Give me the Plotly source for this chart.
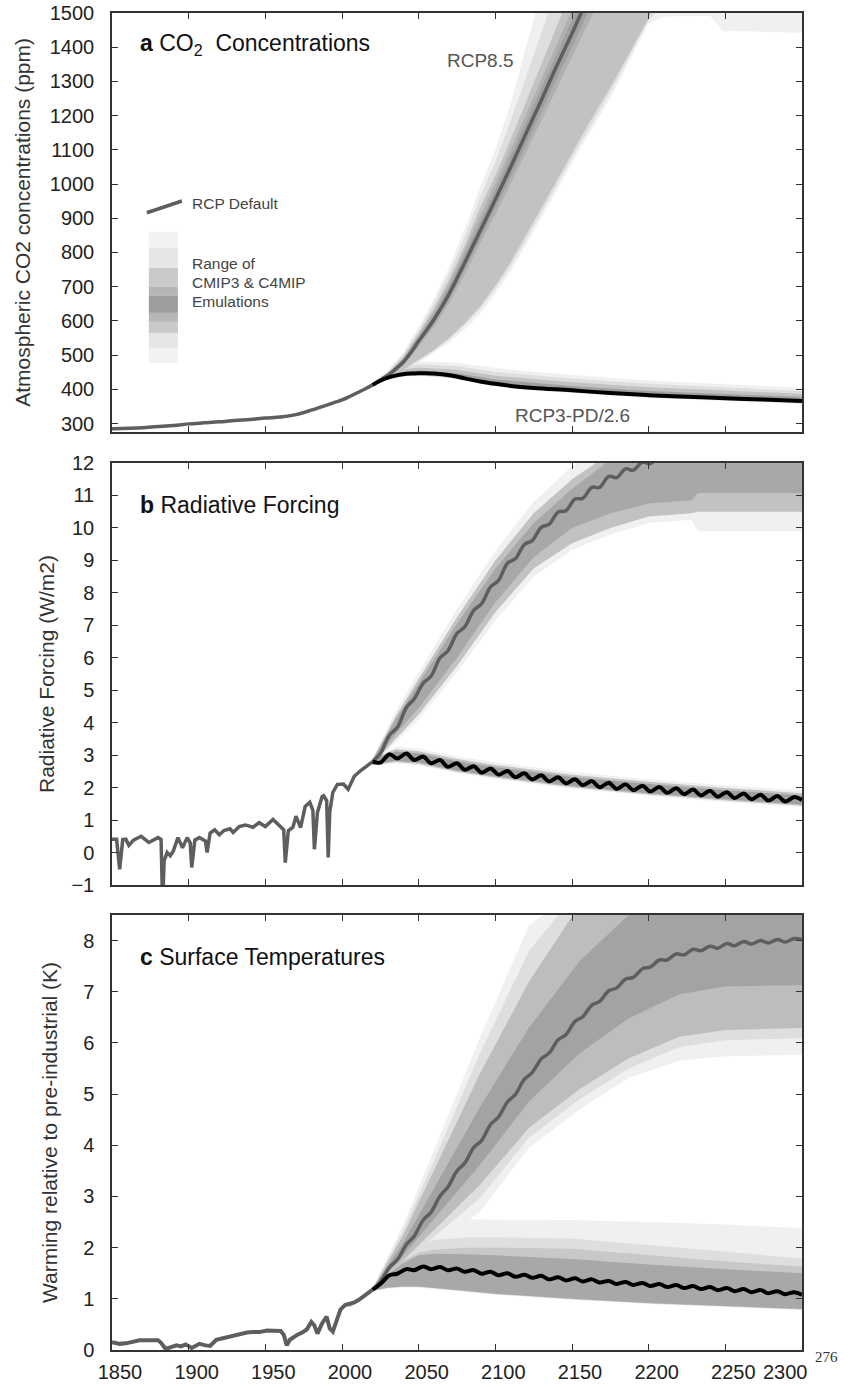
import plotly.graph_objects as go

# ---------------- DATA ----------------
X_TICKS = [1850, 1900, 1950, 2000, 2050, 2100, 2150, 2200, 2250]
X_TICK_TEXT = ["1850", "1900", "1950", "2000", "2050", "2100", "2150", "2200", "2250"]
CO2_TICKS = [300, 400, 500, 600, 700, 800, 900, 1000, 1100, 1200, 1300, 1400, 1500]
RF_TICKS = [-1, 0, 1, 2, 3, 4, 5, 6, 7, 8, 9, 10, 11, 12]
T_TICKS = [0, 1, 2, 3, 4, 5, 6, 7, 8]

# Panel a: CO2 concentrations (ppm)
CO2_HIST_YEARS = [1850, 1870, 1890, 1900, 1910, 1920, 1930, 1940, 1950, 1960, 1970, 1980, 1990, 2000, 2005, 2010, 2015, 2020]
CO2_HIST = [285, 288, 294, 299, 302, 305, 309, 312, 316, 319, 326, 339, 354, 369, 379, 390, 401, 413]

CO2_85_YEARS = [2020, 2025, 2030, 2035, 2040, 2045, 2050, 2060, 2070, 2080, 2090, 2100, 2110, 2120, 2130, 2140, 2150, 2160, 2170, 2200, 2250, 2300]
CO2_85 = [413, 427, 441, 459, 480, 508, 541, 604, 680, 770, 862, 955, 1050, 1148, 1245, 1345, 1440, 1540, 1630, 1900, 1960, 1962]

CO2_26_YEARS = [2020, 2025, 2030, 2035, 2040, 2045, 2050, 2055, 2060, 2070, 2080, 2090, 2100, 2110, 2125, 2150, 2175, 2200, 2225, 2250, 2275, 2300]
CO2_26 = [413, 425, 434, 440, 444, 446, 447, 447, 446, 441, 432, 423, 416, 410, 404, 397, 389, 383, 378, 374, 370, 366]

CO2_85_BAND_YEARS = [2005, 2020, 2030, 2040, 2050, 2060, 2070, 2080, 2090, 2100, 2110, 2120, 2130, 2140, 2150, 2160, 2175, 2200, 2210, 2240, 2248, 2300]
CO2_85_L1_LO = [379, 410, 428, 452, 478, 507, 538, 575, 620, 680, 745, 822, 900, 980, 1060, 1140, 1250, 1470, 1490, 1492, 1448, 1442]
CO2_85_L1_HI = [379, 420, 456, 508, 582, 665, 760, 868, 990, 1100, 1235, 1395, 1565, 1600, 1600, 1600, 1600, 1600, 1600, 1600, 1600, 1600]
CO2_85_L2_LO = [379, 410.5, 430, 455, 483, 512, 546, 587, 634, 693, 760, 836, 915, 995, 1076, 1155, 1268, 1478, 1530, 1600, 1600, 1600]
CO2_85_L2_HI = [379, 419, 452, 502, 573, 652, 742, 845, 960, 1065, 1185, 1310, 1440, 1570, 1600, 1600, 1600, 1600, 1600, 1600, 1600, 1600]
CO2_85_L3_LO = [379, 411, 431, 457, 486, 516, 551, 593, 642, 703, 772, 850, 930, 1010, 1092, 1170, 1282, 1485, 1600, 1600, 1600, 1600]
CO2_85_L3_HI = [379, 417, 448, 495, 563, 637, 722, 820, 930, 1025, 1130, 1240, 1350, 1460, 1570, 1600, 1600, 1600, 1600, 1600, 1600, 1600]
CO2_85_L4_LO = [379, 412, 436, 470, 525, 583, 652, 735, 825, 910, 1000, 1092, 1185, 1280, 1370, 1465, 1600, 1600, 1600, 1600, 1600, 1600]
CO2_85_L4_HI = [379, 416, 446, 491, 558, 628, 710, 807, 905, 1001, 1101, 1204, 1306, 1410, 1510, 1600, 1600, 1600, 1600, 1600, 1600, 1600]
CO2_85_L5_LO = [379, 413, 438, 474, 532, 592, 664, 751, 840, 928, 1020, 1115, 1210, 1308, 1400, 1498, 1600, 1600, 1600, 1600, 1600, 1600]
CO2_85_L5_HI = [379, 415, 444, 487, 552, 619, 699, 792, 887, 983, 1080, 1180, 1280, 1382, 1480, 1580, 1600, 1600, 1600, 1600, 1600, 1600]

CO2_26_BAND_YEARS = [2005, 2020, 2030, 2040, 2050, 2075, 2100, 2150, 2200, 2250, 2300]
CO2_26_L1_LO = [379, 410, 429, 438, 440, 430, 408, 389, 375, 365, 357]
CO2_26_L1_HI = [379, 416, 450, 472, 482, 478, 462, 442, 426, 414, 404]
CO2_26_L2_LO = [379, 410.5, 430, 439, 441.5, 431.5, 409.5, 390.5, 376.5, 367, 359]
CO2_26_L2_HI = [379, 415, 446, 465, 473, 468, 451, 432, 416, 405, 395]
CO2_26_L3_LO = [379, 411, 431, 440.5, 443, 433, 411, 392, 378, 369, 361]
CO2_26_L3_HI = [379, 414, 442, 458, 464, 457, 440, 421, 406, 396, 387]
CO2_26_L5_LO = [379, 411.5, 432, 442, 445, 435, 413.5, 394.5, 380.5, 371.5, 363.5]
CO2_26_L5_HI = [379, 413, 438, 451, 455, 447, 429, 410, 395, 386, 378]

# Panel b: Radiative forcing (W/m2)
RF_HIST_YEARS = [1850, 1853, 1855, 1857, 1859, 1861, 1864, 1869, 1874, 1880, 1882, 1883, 1884, 1886, 1888, 1890, 1893, 1896, 1899, 1901, 1902, 1904, 1907, 1911, 1912, 1914, 1917, 1920, 1923, 1927, 1929, 1933, 1937, 1942, 1946, 1950, 1955, 1959, 1962, 1963, 1965, 1968, 1970, 1973, 1976, 1979, 1981, 1982, 1984, 1987, 1988, 1990, 1991, 1992, 1994, 1997, 2001, 2004, 2008, 2012, 2016, 2020]
RF_HIST = [0.41, 0.41, -0.52, 0.40, 0.41, 0.22, 0.38, 0.50, 0.31, 0.46, 0.40, -1.6, -0.25, 0.0, -0.10, 0.05, 0.46, 0.15, 0.46, 0.30, -0.46, 0.38, 0.46, 0.35, 0.0, 0.60, 0.70, 0.55, 0.68, 0.73, 0.62, 0.80, 0.85, 0.78, 0.92, 0.80, 1.02, 0.82, 0.70, -0.31, 0.67, 0.78, 1.12, 0.77, 1.42, 1.55, 1.30, 0.10, 1.24, 1.72, 1.75, 1.60, -0.15, 1.24, 1.85, 2.10, 2.11, 1.95, 2.35, 2.52, 2.65, 2.80]

FUT_YEARS = [2020, 2025, 2031, 2036, 2042, 2047, 2053, 2058, 2064, 2069, 2075, 2080, 2086, 2091, 2097, 2102, 2108, 2113, 2119, 2124, 2130, 2135, 2141, 2146, 2152, 2157, 2163, 2168, 2174, 2179, 2185, 2190, 2196, 2201, 2207, 2212, 2218, 2223, 2229, 2234, 2240, 2245, 2251, 2256, 2262, 2267, 2273, 2278, 2284, 2289, 2295, 2300]
RF_85 = [2.80, 3.05, 3.62, 3.85, 4.47, 4.73, 5.22, 5.43, 6.00, 6.21, 6.75, 6.95, 7.47, 7.66, 8.19, 8.38, 8.92, 9.05, 9.49, 9.61, 10.02, 10.11, 10.49, 10.53, 10.89, 10.91, 11.25, 11.25, 11.59, 11.55, 11.82, 11.78, 12.03, 11.98, 12.20, 12.10, 12.25, 12.15, 12.30, 12.20, 12.30, 12.20, 12.35, 12.25, 12.35, 12.25, 12.35, 12.25, 12.35, 12.25, 12.35, 12.30]
RF_26 = [2.80, 2.77, 3.03, 2.90, 3.05, 2.85, 2.96, 2.75, 2.85, 2.64, 2.75, 2.55, 2.66, 2.46, 2.59, 2.40, 2.51, 2.32, 2.44, 2.25, 2.38, 2.19, 2.32, 2.13, 2.26, 2.07, 2.20, 2.01, 2.15, 1.96, 2.10, 1.92, 2.06, 1.88, 2.02, 1.84, 1.98, 1.80, 1.94, 1.76, 1.90, 1.72, 1.86, 1.68, 1.82, 1.64, 1.78, 1.60, 1.74, 1.57, 1.71, 1.62]

RF_85_BAND_YEARS = [2020, 2035, 2050, 2075, 2100, 2125, 2150, 2175, 2200, 2228, 2232, 2300]
RF_85_L1_LO = [2.70, 3.40, 4.10, 5.55, 7.15, 8.50, 9.32, 9.80, 10.15, 10.25, 9.90, 9.90]
RF_85_L1_HI = [2.90, 4.35, 5.55, 7.50, 9.30, 10.80, 11.90, 12.60, 12.60, 12.60, 12.60, 12.60]
RF_85_L3_LO = [2.72, 3.50, 4.25, 5.75, 7.40, 8.75, 9.53, 10.00, 10.35, 10.45, 10.50, 10.50]
RF_85_L3_HI = [2.88, 4.20, 5.35, 7.25, 9.00, 10.45, 11.50, 12.30, 12.60, 12.60, 12.60, 12.60]
RF_85_L5_LO = [2.75, 3.65, 4.45, 6.00, 7.70, 9.10, 10.00, 10.45, 10.75, 10.85, 11.08, 11.08]
RF_85_L5_HI = [2.85, 4.10, 5.20, 7.05, 8.75, 10.15, 11.20, 12.10, 12.60, 12.60, 12.60, 12.60]

RF_26_BAND_YEARS = [2020, 2035, 2050, 2075, 2100, 2150, 2200, 2250, 2300]
RF_26_L1_LO = [2.68, 2.75, 2.69, 2.45, 2.27, 1.97, 1.75, 1.56, 1.40]
RF_26_L1_HI = [2.92, 3.26, 3.20, 2.96, 2.78, 2.48, 2.26, 2.07, 1.91]
RF_26_L3_LO = [2.70, 2.79, 2.73, 2.49, 2.31, 2.01, 1.79, 1.60, 1.44]
RF_26_L3_HI = [2.90, 3.18, 3.12, 2.88, 2.70, 2.40, 2.18, 1.99, 1.83]
RF_26_L5_LO = [2.72, 2.83, 2.77, 2.53, 2.35, 2.05, 1.83, 1.64, 1.48]
RF_26_L5_HI = [2.88, 3.11, 3.05, 2.81, 2.63, 2.33, 2.11, 1.92, 1.76]

# Panel c: surface temperatures (K)
T_HIST_YEARS = [1850, 1855, 1859, 1863, 1868, 1872, 1877, 1880, 1882, 1885, 1889, 1892, 1895, 1898, 1902, 1905, 1907, 1911, 1914, 1918, 1922, 1925, 1930, 1934, 1938, 1942, 1946, 1951, 1956, 1960, 1962, 1964, 1966, 1968, 1971, 1974, 1977, 1980, 1982, 1984, 1987, 1990, 1992, 1994, 1996, 1999, 2002, 2005, 2008, 2011, 2015, 2020]
T_HIST = [0.15, 0.12, 0.13, 0.15, 0.19, 0.19, 0.20, 0.19, 0.14, 0.02, 0.06, 0.09, 0.07, 0.11, 0.04, 0.09, 0.12, 0.09, 0.08, 0.20, 0.23, 0.25, 0.29, 0.32, 0.34, 0.35, 0.35, 0.38, 0.37, 0.37, 0.30, 0.09, 0.20, 0.25, 0.30, 0.34, 0.40, 0.55, 0.48, 0.32, 0.52, 0.65, 0.42, 0.36, 0.55, 0.79, 0.88, 0.90, 0.93, 0.98, 1.06, 1.18]

T_85 = [1.18, 1.33, 1.62, 1.76, 2.06, 2.22, 2.54, 2.69, 3.01, 3.18, 3.50, 3.65, 3.96, 4.09, 4.41, 4.55, 4.85, 4.99, 5.29, 5.42, 5.69, 5.80, 6.06, 6.16, 6.42, 6.51, 6.74, 6.81, 7.02, 7.07, 7.25, 7.28, 7.45, 7.48, 7.62, 7.62, 7.74, 7.72, 7.83, 7.80, 7.89, 7.85, 7.94, 7.90, 7.98, 7.93, 8.00, 7.95, 8.02, 7.97, 8.04, 8.02]
T_26 = [1.18, 1.29, 1.46, 1.49, 1.58, 1.56, 1.63, 1.58, 1.62, 1.56, 1.59, 1.53, 1.56, 1.49, 1.53, 1.46, 1.50, 1.43, 1.47, 1.41, 1.45, 1.38, 1.42, 1.36, 1.40, 1.34, 1.38, 1.32, 1.35, 1.29, 1.33, 1.27, 1.31, 1.25, 1.29, 1.23, 1.27, 1.21, 1.25, 1.19, 1.23, 1.17, 1.21, 1.15, 1.19, 1.13, 1.17, 1.11, 1.15, 1.09, 1.13, 1.08]

T_85_BAND_YEARS = [2005, 2020, 2040, 2060, 2090, 2122, 2155, 2187, 2220, 2250, 2300]
T_85_L1_LO = [0.82, 1.14, 1.62, 2.05, 2.70, 3.95, 4.70, 5.32, 5.65, 5.74, 5.77]
T_85_L1_HI = [0.90, 1.22, 2.45, 3.90, 6.10, 8.30, 9.0, 9.0, 9.0, 9.0, 9.0]
T_85_L2_LO = [0.83, 1.15, 1.70, 2.20, 2.97, 4.15, 4.90, 5.50, 5.92, 6.05, 6.09]
T_85_L2_HI = [0.89, 1.21, 2.35, 3.70, 5.80, 7.80, 9.0, 9.0, 9.0, 9.0, 9.0]
T_85_L3_LO = [0.84, 1.16, 1.75, 2.35, 3.23, 4.34, 5.10, 5.70, 6.12, 6.25, 6.29]
T_85_L3_HI = [0.88, 1.20, 2.25, 3.50, 5.40, 7.20, 8.70, 9.0, 9.0, 9.0, 9.0]
T_85_L5_LO = [0.85, 1.17, 1.85, 2.55, 3.62, 4.86, 5.80, 6.48, 6.95, 7.10, 7.13]
T_85_L5_HI = [0.87, 1.19, 2.10, 3.15, 4.75, 6.30, 7.60, 8.50, 9.0, 9.0, 9.0]

T_26_BAND_YEARS = [2005, 2020, 2030, 2040, 2050, 2060, 2080, 2100, 2150, 2200, 2250, 2300]
T_26_L1_LO = [0.85, 1.15, 1.20, 1.22, 1.22, 1.20, 1.14, 1.08, 0.98, 0.90, 0.84, 0.78]
T_26_L1_HI = [0.90, 1.20, 1.60, 2.00, 2.35, 2.50, 2.55, 2.55, 2.54, 2.50, 2.45, 2.38]
T_26_L2_LO = [0.86, 1.155, 1.21, 1.23, 1.23, 1.21, 1.15, 1.09, 0.99, 0.91, 0.85, 0.79]
T_26_L2_HI = [0.89, 1.20, 1.55, 1.85, 2.05, 2.15, 2.20, 2.20, 2.18, 2.05, 1.92, 1.79]
T_26_L3_LO = [0.86, 1.16, 1.215, 1.235, 1.235, 1.215, 1.155, 1.095, 0.995, 0.915, 0.855, 0.795]
T_26_L3_HI = [0.88, 1.20, 1.52, 1.75, 1.90, 1.96, 2.00, 2.00, 1.98, 1.85, 1.73, 1.63]
T_26_L5_LO = [0.86, 1.16, 1.22, 1.24, 1.24, 1.22, 1.16, 1.10, 1.00, 0.92, 0.86, 0.80]
T_26_L5_HI = [0.87, 1.19, 1.48, 1.70, 1.85, 1.88, 1.87, 1.85, 1.78, 1.67, 1.58, 1.50]

# ---------------- STYLE ----------------
C_L1 = "#f0f0f0"
C_L2 = "#dedede"
C_L3 = "#c2c2c2"
C_L4 = "#b0b0b0"
C_L5 = "#a0a0a0"
GRAY_LINE = "#5e5e5e"
BLACK_LINE = "#000000"
FONT = "Liberation Sans, Arial, Helvetica, sans-serif"

fig = go.Figure()


def add_band(xs, lo, hi, color, xa, ya):
    fig.add_trace(go.Scatter(
        x=list(xs) + list(xs)[::-1], y=list(hi) + list(lo)[::-1],
        fill="toself", fillcolor=color, mode="lines", line=dict(width=0, color=color),
        hoverinfo="skip", showlegend=False, xaxis=xa, yaxis=ya))


def add_line(xs, ys, color, width, xa, ya, shape="linear"):
    fig.add_trace(go.Scatter(
        x=xs, y=ys, mode="lines", line=dict(color=color, width=width, shape=shape, smoothing=1.0),
        hoverinfo="skip", showlegend=False, xaxis=xa, yaxis=ya))


# Panel a
add_band(CO2_85_BAND_YEARS, CO2_85_L1_LO, CO2_85_L1_HI, C_L1, "x", "y")
add_band(CO2_26_BAND_YEARS, CO2_26_L1_LO, CO2_26_L1_HI, C_L1, "x", "y")
add_band(CO2_85_BAND_YEARS, CO2_85_L2_LO, CO2_85_L2_HI, C_L2, "x", "y")
add_band(CO2_26_BAND_YEARS, CO2_26_L2_LO, CO2_26_L2_HI, C_L2, "x", "y")
add_band(CO2_85_BAND_YEARS, CO2_85_L3_LO, CO2_85_L3_HI, C_L3, "x", "y")
add_band(CO2_26_BAND_YEARS, CO2_26_L3_LO, CO2_26_L3_HI, C_L3, "x", "y")
add_band(CO2_85_BAND_YEARS, CO2_85_L4_LO, CO2_85_L4_HI, C_L4, "x", "y")
add_band(CO2_85_BAND_YEARS, CO2_85_L5_LO, CO2_85_L5_HI, C_L5, "x", "y")
add_band(CO2_26_BAND_YEARS, CO2_26_L5_LO, CO2_26_L5_HI, C_L5, "x", "y")
add_line(CO2_HIST_YEARS, CO2_HIST, GRAY_LINE, 3.5, "x", "y", "spline")
add_line(CO2_85_YEARS, CO2_85, GRAY_LINE, 3.5, "x", "y", "spline")
add_line(CO2_26_YEARS, CO2_26, BLACK_LINE, 4, "x", "y", "spline")

# Panel b
add_band(RF_85_BAND_YEARS, RF_85_L1_LO, RF_85_L1_HI, C_L1, "x2", "y2")
add_band(RF_26_BAND_YEARS, RF_26_L1_LO, RF_26_L1_HI, C_L1, "x2", "y2")
add_band(RF_85_BAND_YEARS, RF_85_L3_LO, RF_85_L3_HI, C_L3, "x2", "y2")
add_band(RF_26_BAND_YEARS, RF_26_L3_LO, RF_26_L3_HI, C_L3, "x2", "y2")
add_band(RF_85_BAND_YEARS, RF_85_L5_LO, RF_85_L5_HI, "#a8a8a8", "x2", "y2")
add_band(RF_26_BAND_YEARS, RF_26_L5_LO, RF_26_L5_HI, C_L5, "x2", "y2")
add_line(RF_HIST_YEARS, RF_HIST, GRAY_LINE, 3.5, "x2", "y2")
add_line(FUT_YEARS, RF_85, GRAY_LINE, 3.5, "x2", "y2", "spline")
add_line(FUT_YEARS, RF_26, BLACK_LINE, 4, "x2", "y2", "spline")

# Panel c
add_band(T_85_BAND_YEARS, T_85_L1_LO, T_85_L1_HI, C_L1, "x3", "y3")
add_band(T_26_BAND_YEARS, T_26_L1_LO, T_26_L1_HI, C_L1, "x3", "y3")
add_band(T_85_BAND_YEARS, T_85_L2_LO, T_85_L2_HI, C_L2, "x3", "y3")
add_band(T_26_BAND_YEARS, T_26_L2_LO, T_26_L2_HI, C_L2, "x3", "y3")
add_band(T_85_BAND_YEARS, T_85_L3_LO, T_85_L3_HI, "#bdbdbd", "x3", "y3")
add_band(T_26_BAND_YEARS, T_26_L3_LO, T_26_L3_HI, "#c8c8c8", "x3", "y3")
add_band(T_85_BAND_YEARS, T_85_L5_LO, T_85_L5_HI, "#a3a3a3", "x3", "y3")
add_band(T_26_BAND_YEARS, T_26_L5_LO, T_26_L5_HI, "#a8a8a8", "x3", "y3")
add_line(T_HIST_YEARS, T_HIST, GRAY_LINE, 4, "x3", "y3")
add_line(FUT_YEARS, T_85, GRAY_LINE, 3.5, "x3", "y3", "spline")
add_line(FUT_YEARS, T_26, BLACK_LINE, 4, "x3", "y3", "spline")

# ---------------- LAYOUT ----------------
axis_common = dict(showline=True, linecolor="#333333", linewidth=1.5, mirror="ticks",
                   ticks="inside", ticklen=6, tickwidth=1.2, tickcolor="#333333",
                   showgrid=False, zeroline=False, automargin=False, ticklabeloverflow="allow",
                   tickfont=dict(family=FONT, size=20, color="#222222"))

xa = dict(axis_common, range=[1850, 2300], tickvals=X_TICKS, domain=[0, 1])
fig.update_layout(
    xaxis=dict(xa, anchor="y", showticklabels=False),
    xaxis2=dict(xa, anchor="y2", showticklabels=False),
    xaxis3=dict(xa, anchor="y3", ticktext=X_TICK_TEXT, ticklabelshift=8, ticklabelstandoff=3),
    yaxis=dict(axis_common, anchor="x", domain=[0.6868, 1.0], range=[276, 1500], tickvals=CO2_TICKS,
               ticklabelstandoff=12,
               title=dict(text="Atmospheric CO2 concentrations (ppm)", standoff=13,
                          font=dict(family=FONT, size=21, color="#333333"))),
    yaxis2=dict(axis_common, anchor="x2", domain=[0.3478, 0.6634], range=[-1, 12], tickvals=RF_TICKS,
                ticklabelstandoff=12,
                title=dict(text="Radiative Forcing (W/m2)", standoff=11,
                           font=dict(family=FONT, size=21, color="#333333"))),
    yaxis3=dict(axis_common, anchor="x3", domain=[0, 0.3254], range=[0, 8.5], tickvals=T_TICKS,
                ticklabelstandoff=12,
                title=dict(text="Warming relative to pre-industrial (K)", standoff=20,
                           font=dict(family=FONT, size=21, color="#333333"))),
    width=850, height=1387,
    margin=dict(l=112, r=48, t=13, b=37),
    paper_bgcolor="white", plot_bgcolor="white",
    font=dict(family=FONT, color="#222222"),
    showlegend=False,
)

annotations = [
    dict(text="<b>a</b> CO<sub>2</sub>  Concentrations", xref="x domain", yref="y domain",
         x=0.038, y=0.925, xanchor="left", yanchor="middle", showarrow=False,
         font=dict(family=FONT, size=23, color="#111111")),
    dict(text="<b>b</b> Radiative Forcing", xref="x2 domain", yref="y2 domain",
         x=0.038, y=0.9005, xanchor="left", yanchor="middle", showarrow=False,
         font=dict(family=FONT, size=23, color="#111111")),
    dict(text="<b>c</b> Surface Temperatures", xref="x3 domain", yref="y3 domain",
         x=0.038, y=0.9034, xanchor="left", yanchor="middle", showarrow=False,
         font=dict(family=FONT, size=23, color="#111111")),
    dict(text="RCP8.5", xref="x", yref="y", x=2090, y=1360, showarrow=False,
         font=dict(family=FONT, size=19, color="#555555")),
    dict(text="RCP3-PD/2.6", xref="x", yref="y", x=2150, y=323, showarrow=False,
         font=dict(family=FONT, size=19, color="#555555")),
    dict(text="RCP Default", xref="x domain", yref="y domain", x=0.113, y=0.5445,
         xanchor="left", yanchor="middle", showarrow=False,
         font=dict(family=FONT, size=15.5, color="#444444")),
    dict(text="Range of", xref="x domain", yref="y domain", x=0.113, y=0.401,
         xanchor="left", yanchor="middle", showarrow=False,
         font=dict(family=FONT, size=15.5, color="#444444")),
    dict(text="CMIP3 &amp; C4MIP", xref="x domain", yref="y domain", x=0.113, y=0.3556,
         xanchor="left", yanchor="middle", showarrow=False,
         font=dict(family=FONT, size=15.5, color="#444444")),
    dict(text="Emulations", xref="x domain", yref="y domain", x=0.113, y=0.31,
         xanchor="left", yanchor="middle", showarrow=False,
         font=dict(family=FONT, size=15.5, color="#444444")),
    dict(text="2300", xref="x3", yref="y3 domain", x=2300, y=0, xanchor="center", yanchor="top",
         xshift=-17, yshift=-9, showarrow=False,
         font=dict(family=FONT, size=20, color="#222222")),
    dict(text="276", xref="paper", yref="paper", x=1.036, y=-0.005, xanchor="center", yanchor="middle",
         showarrow=False, font=dict(family="Liberation Serif, DejaVu Serif, serif", size=15, color="#333333")),
]
fig.update_layout(annotations=annotations)

# Legend swatch (range of emulations) and default line sample in panel a
swatch_edges = [0.4775, 0.4393, 0.3915, 0.346, 0.3245, 0.2838, 0.2623, 0.236, 0.2001, 0.1643]
swatch_colors = ["#f2f2f2", "#e6e6e6", "#c9c9c9", "#b6b6b6", "#9e9e9e", "#b6b6b6", "#c9c9c9", "#e6e6e6", "#f2f2f2"]
shapes = []
for i, col in enumerate(swatch_colors):
    shapes.append(dict(type="rect", xref="x domain", yref="y domain", x0=0.0534, x1=0.0955,
                       y0=swatch_edges[i + 1], y1=swatch_edges[i], fillcolor=col, line=dict(width=0)))
shapes.append(dict(type="line", xref="x domain", yref="y domain", x0=0.0505, y0=0.523, x1=0.1013, y1=0.551,
                   line=dict(color=GRAY_LINE, width=3.5)))
fig.update_layout(shapes=shapes)

# remove the browser's default 8px page margin so the 850x1387 figure fills the window
fig.write_html("out.html", config={"displayModeBar": False},
               post_script="document.body.style.margin='0';")
